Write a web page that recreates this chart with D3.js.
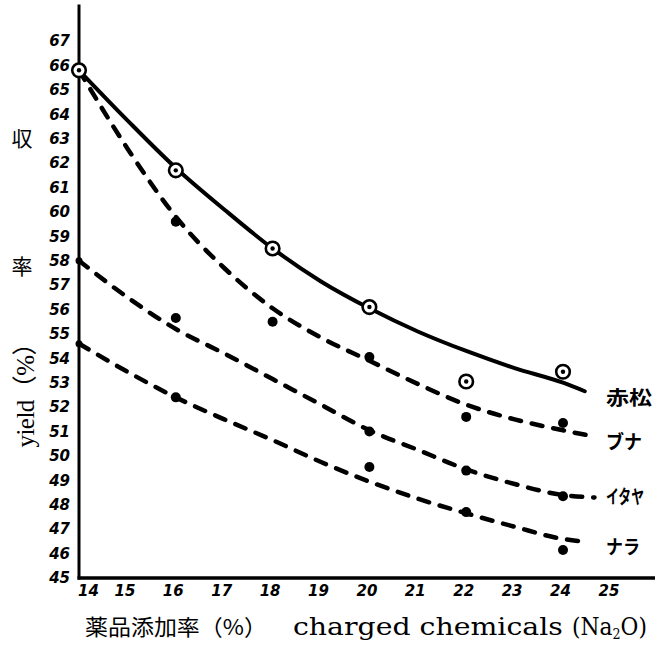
<!DOCTYPE html>
<html>
<head>
<meta charset="utf-8">
<script src="https://cdn.jsdelivr.net/npm/d3@7/dist/d3.min.js"></script>
<style>
  body { margin: 0; background: #fff; }
  .tick text { font-family: "DejaVu Sans", sans-serif; font-weight: bold; font-style: italic; }
</style>
</head>
<body>
<div id="chart"></div>
<script>

// tick labels
var xTicks = [14, 15, 16, 17, 18, 19, 20, 21, 22, 23, 24, 25];
var yTicks = [45, 46, 47, 48, 49, 50, 51, 52, 53, 54, 55, 56, 57, 58, 59, 60, 61, 62, 63, 64, 65, 66, 67];

// series names (as written at the end of each curve)
var seriesNames = ["赤松", "ブナ", "イタヤ", "ナラ"];

// drawn curves at each whole percent
var curveX = [14, 15, 16, 17, 18, 19, 20, 21, 22, 23, 24];
var akamatsuCurve = [65.8, 63.75, 61.8, 60.1, 58.5, 57.15, 56.05, 55.1, 54.3, 53.6, 53.0];
var bunaCurve     = [65.8, 62.6, 59.8, 57.7, 56.05, 54.85, 53.9, 52.95, 52.1, 51.5, 51.05];
var itayaCurve    = [58.0, 56.5, 55.2, 54.2, 53.15, 52.1, 51.05, 50.25, 49.45, 48.85, 48.4];
var naraCurve     = [54.6, 53.45, 52.4, 51.5, 50.65, 49.75, 48.95, 48.25, 47.65, 47.1, 46.6];
// where each curve stops on the right
var curveEndX = [24.45, 24.65, 24.65, 24.4];
var curveEndY = [52.65, 50.8, 48.3, 46.5];

// measured points (null = no point drawn)
var pointX = [14, 16, 18, 20, 22, 24];
var akamatsuPts = [65.8, 61.7, 58.5, 56.1, 53.05, 53.45];
var bunaPts     = [null, 59.6, 55.5, 54.05, 51.6, 51.35];
var itayaPts    = [58.0, 55.65, null, 51.0, 49.4, 48.35];
var naraPts     = [54.6, 52.4, null, 49.55, 47.7, 46.15];

var curves = [akamatsuCurve, bunaCurve, itayaCurve, naraCurve];
var points = [akamatsuPts, bunaPts, itayaPts, naraPts];

var width = 655, height = 649;

var svg = d3.select("#chart")
  .append("svg")
    .attr("width", width)
    .attr("height", height)
    .style("background", "#fff");

// squeeze/stretch a text horizontally so it spans w pixels from x0
function fitText(t, x0, y0, w) {
  var nat = t.node().getComputedTextLength();
  t.attr("x", 0).attr("y", 0)
   .attr("transform", "translate(" + x0 + "," + y0 + ") scale(" + (w / nat) + ",1)");
}

// scales
var x = d3.scaleLinear().domain([14, 24]).range([79, 563]);
var y = d3.scaleLinear().domain([45, 67]).range([578, 41]);

// axis lines
svg.append("line")
    .attr("x1", x(14)).attr("x2", x(14))
    .attr("y1", y(68.5)).attr("y2", y(45) + 1.5)
    .attr("stroke", "#000").attr("stroke-width", 3);
svg.append("line")
    .attr("x1", x(14) - 1.5).attr("x2", width)
    .attr("y1", y(45)).attr("y2", y(45))
    .attr("stroke", "#000").attr("stroke-width", 3.5);

// y tick labels
var yAxis = svg.append("g")
    .attr("transform", "translate(" + (x(14) - 2) + ",0)")
    .call(d3.axisLeft(y).tickValues(yTicks).tickSize(0).tickPadding(7).tickFormat(d3.format("d")));
yAxis.select(".domain").remove();
yAxis.selectAll("text").style("font-size", "15px").attr("fill", "#000");

// x tick labels
var xAxis = svg.append("g")
    .attr("transform", "translate(0," + y(45) + ")")
    .call(d3.axisBottom(x).tickValues(xTicks).tickSize(0).tickPadding(7).tickFormat(d3.format("d")));
xAxis.select(".domain").remove();
xAxis.selectAll("text")
    .style("font-size", "15px").attr("fill", "#000")
    .attr("dx", function(d) { return d === 14 ? 9 : -3; });

// curves
var line = d3.line()
    .x(function(d) { return x(d[0]); })
    .y(function(d) { return y(d[1]); })
    .curve(d3.curveMonotoneX);

curves.forEach(function(c, i) {
  var pts = curveX.map(function(v, j) { return [v, c[j]]; });
  pts.push([curveEndX[i], curveEndY[i]]);
  svg.append("path")
      .datum(pts)
      .attr("d", line)
      .attr("fill", "none")
      .attr("stroke", "#000")
      .attr("stroke-width", i === 0 ? 4 : 4.5)
      .attr("stroke-linecap", "round")
      .attr("stroke-dasharray", i === 0 ? null : "11,11");
});

// points
points.forEach(function(p, i) {
  var data = pointX.map(function(v, j) { return {x: v, y: p[j]}; })
    .filter(function(d) { return d.y !== null; });
  var g = svg.append("g");
  if (i === 0) {
    g.selectAll("circle.ring").data(data).enter().append("circle")
        .attr("class", "ring")
        .attr("cx", function(d) { return x(d.x); })
        .attr("cy", function(d) { return y(d.y); })
        .attr("r", 6.8)
        .attr("fill", "#fff")
        .attr("stroke", "#000")
        .attr("stroke-width", 2.6);
    g.selectAll("circle.core").data(data).enter().append("circle")
        .attr("class", "core")
        .attr("cx", function(d) { return x(d.x); })
        .attr("cy", function(d) { return y(d.y); })
        .attr("r", 2.2)
        .attr("fill", "#000");
  } else {
    g.selectAll("circle").data(data).enter().append("circle")
        .attr("cx", function(d) { return x(d.x); })
        .attr("cy", function(d) { return y(d.y); })
        .attr("r", function(d) { return d.x === 14 ? 3.5 : 5; })
        .attr("fill", "#000");
  }
});

// series labels at the curve ends
var labelDy = [6, 4, -2, 4];
var labelLen = [46, 36, 38, 34];
seriesNames.forEach(function(name, i) {
  var t = svg.append("text")
      .attr("dominant-baseline", "central")
      .style("font-family", "'Noto Sans CJK JP', sans-serif")
      .style("font-weight", "bold")
      .style("font-size", "19px")
      .text(name);
  fitText(t, 606, y(curveEndY[i]) + labelDy[i], labelLen[i]);
});

// axis titles
var serif = "'DejaVu Serif', 'Noto Sans CJK JP', serif";
var cjk = "'Noto Sans CJK JP', sans-serif";
svg.append("text")
    .attr("x", 22).attr("y", 137)
    .attr("text-anchor", "middle").attr("dominant-baseline", "central")
    .style("font-family", cjk).style("font-size", "21px")
    .text("収");
svg.append("text")
    .attr("x", 22).attr("y", 265)
    .attr("text-anchor", "middle").attr("dominant-baseline", "central")
    .style("font-family", cjk).style("font-size", "21px")
    .text("率");
svg.append("text")
    .attr("transform", "translate(25,389) rotate(-90)")
    .attr("text-anchor", "middle").attr("dominant-baseline", "central")
    .attr("textLength", 117)
    .style("font-family", "'Liberation Serif', 'Noto Sans CJK JP', serif").style("font-size", "25px")
    .text("yield（%）");

// x title, in three runs as set in the original
var t1 = svg.append("text")
    .style("font-family", cjk).style("font-size", "22px")
    .text("薬品添加率（%）");
fitText(t1, 85, 635, 182);
var t2 = svg.append("text")
    .style("font-family", serif).style("font-size", "24px")
    .text("charged chemicals");
fitText(t2, 293, 635, 270);
var t3 = svg.append("text")
    .style("font-family", serif).style("font-size", "24px");
t3.append("tspan").text("(Na");
t3.append("tspan").attr("dy", 4).style("font-size", "14px").text("2");
t3.append("tspan").attr("dy", -4).text("O)");
fitText(t3, 572, 635, 75);

</script>
</body>
</html>
